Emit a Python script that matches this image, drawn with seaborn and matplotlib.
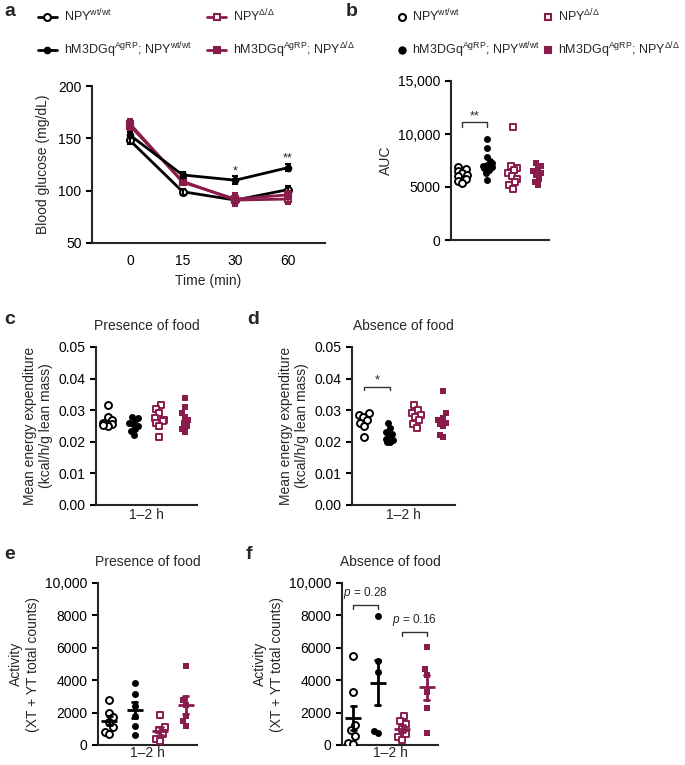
import warnings
import numpy as np
import pandas as pd
import seaborn as sns
import matplotlib.pyplot as plt
from matplotlib.lines import Line2D

warnings.filterwarnings('ignore')

# ---- data ----
group_labels = ['NPY$^{\\mathrm{wt/wt}}$',
                'hM3DGq$^{\\mathrm{AgRP}}$; NPY$^{\\mathrm{wt/wt}}$',
                'NPY$^{\\Delta/\\Delta}$',
                'hM3DGq$^{\\mathrm{AgRP}}$; NPY$^{\\Delta/\\Delta}$']
groups = ['npy_wt', 'hm3_wt', 'npy_del', 'hm3_del']

# a: glucose tolerance (mean, sem)
times = ['0', '15', '30', '60']
glucose_npy_wt = [148, 99, 91, 101]
glucose_npy_wt_sem = [3, 3, 4, 3]
glucose_hm3_wt = [153, 115, 110, 122]
glucose_hm3_wt_sem = [3, 3, 4, 3]
glucose_npy_del = [162, 109, 91, 92]
glucose_npy_del_sem = [5, 4, 6, 5]
glucose_hm3_del = [164, 108, 92, 96]
glucose_hm3_del_sem = [4, 3, 6, 4]

# b: AUC
auc_npy_wt = [6900, 6700, 6500, 6300, 6100, 6000, 5800, 5600, 5400]
auc_hm3_wt = [9500, 8700, 7800, 7500, 7300, 7100, 7000, 6900, 6800, 6600, 6300, 5700]
auc_npy_del = [10650, 7000, 6800, 6600, 6300, 6000, 5800, 5500, 5200, 4800]
auc_hm3_del = [7300, 7000, 6700, 6500, 6300, 6100, 5800, 5500, 5200]

# c: energy expenditure, presence of food
ee_fed_npy_wt = [0.0315, 0.028, 0.027, 0.026, 0.0255, 0.025, 0.0252]
ee_fed_hm3_wt = [0.028, 0.0275, 0.027, 0.026, 0.0255, 0.025, 0.024, 0.0235, 0.022]
ee_fed_npy_del = [0.0315, 0.0305, 0.029, 0.0275, 0.027, 0.0265, 0.026, 0.025, 0.0215]
ee_fed_hm3_del = [0.034, 0.031, 0.029, 0.028, 0.027, 0.026, 0.025, 0.024, 0.023]

# d: energy expenditure, absence of food
ee_fast_npy_wt = [0.029, 0.0285, 0.028, 0.027, 0.026, 0.025, 0.0215]
ee_fast_hm3_wt = [0.026, 0.0245, 0.023, 0.0225, 0.022, 0.021, 0.0205, 0.020, 0.020]
ee_fast_npy_del = [0.0315, 0.030, 0.029, 0.0285, 0.028, 0.027, 0.0255, 0.0245]
ee_fast_hm3_del = [0.036, 0.029, 0.0275, 0.027, 0.026, 0.0255, 0.025, 0.022, 0.0215]

# e: activity, presence of food
act_fed_npy_wt = [2800, 2000, 1700, 1400, 1100, 800, 700]
act_fed_hm3_wt = [3850, 3150, 2400, 1800, 1200, 600]
act_fed_npy_del = [1850, 1100, 900, 700, 400, 250]
act_fed_hm3_del = [4900, 2800, 2500, 1800, 1500, 1200]

# f: activity, absence of food
act_fast_npy_wt = [5500, 3250, 1250, 900, 550, 150, 50]
act_fast_hm3_wt = [7950, 5200, 4500, 850, 750]
act_fast_npy_del = [1800, 1500, 1300, 1000, 700, 500, 300]
act_fast_hm3_del = [6050, 4700, 4350, 3300, 2300, 750]

auc_ticks = [0, 5000, 10000, 15000]
auc_ticklabels = ['0', '5000', '10,000', '15,000']
ee_ticks = [0.0, 0.01, 0.02, 0.03, 0.04, 0.05]
ee_ticklabels = ['0.00', '0.01', '0.02', '0.03', '0.04', '0.05']
act_ticks = [0, 2000, 4000, 6000, 8000, 10000]
act_ticklabels = ['0', '2000', '4000', '6000', '8000', '10,000']

# ---- style ----
sns.set_style('ticks')
plt.rcParams['font.family'] = ['Liberation Sans', 'DejaVu Sans']
plt.rcParams['mathtext.fontset'] = 'custom'
plt.rcParams['mathtext.rm'] = 'Liberation Sans'
plt.rcParams['mathtext.it'] = 'Liberation Sans:italic'
plt.rcParams['mathtext.default'] = 'regular'
plt.rcParams['font.size'] = 10
plt.rcParams['axes.linewidth'] = 1.5

PURPLE = '#8a1c4c'
W, H = 685, 765
styles = {
    'npy_wt': dict(marker='o', face='white', edge='black', lw=1.4),
    'hm3_wt': dict(marker='o', face='black', edge='black', lw=0),
    'npy_del': dict(marker='s', face='white', edge=PURPLE, lw=1.4),
    'hm3_del': dict(marker='s', face=PURPLE, edge=PURPLE, lw=0),
}
line_color = {'npy_wt': 'black', 'hm3_wt': 'black', 'npy_del': PURPLE, 'hm3_del': PURPLE}
swarms = []  # (collection, centre, squeeze) - narrowed after the first draw


def box(l, t, r, b):
    return [l / W, 1 - b / H, (r - l) / W, (b - t) / H]


def style_axis(ax):
    sns.despine(ax=ax)
    ax.tick_params(direction='out', length=4, width=1.5, labelsize=10, colors='black')


def scatter_panel(ax, values, size=5, means=False, squeeze=0.45):
    df = pd.DataFrame({'group': np.repeat(groups, [len(v) for v in values]),
                       'value': np.concatenate(values)})
    for i, g in enumerate(groups):
        st = styles[g]
        sub = df[df['group'] == g]
        n = len(ax.collections)
        sns.swarmplot(data=sub, x='group', y='value', order=groups, ax=ax,
                      marker=st['marker'], color=st['face'], edgecolor=st['edge'],
                      linewidth=st['lw'], size=size, zorder=3)
        for coll in ax.collections[n:]:
            if len(coll.get_offsets()) > 1:
                swarms.append((coll, i, squeeze))
        if means:
            sns.pointplot(data=sub, x='group', y='value', order=groups, ax=ax,
                          errorbar='se', color=line_color[g], marker='_',
                          markersize=12, markeredgewidth=2, linestyle='none',
                          capsize=0.2, err_kws={'linewidth': 2}, zorder=4)
    ax.set_xlim(-0.45, 3.45)
    ax.set_xticks([])
    ax.set_xlabel('1–2 h', fontsize=10, labelpad=2)
    style_axis(ax)


def bracket(ax, x1, x2, y, h, text, fs=9, pad=0):
    ax.plot([x1, x1, x2, x2], [y - h, y, y, y - h], color='#333333', lw=1, clip_on=False)
    ax.text((x1 + x2) / 2, y + pad, text, ha='center', va='bottom', fontsize=fs)


fig = plt.figure(figsize=(W / 100, H / 100), dpi=100)

# ---- a ----
ax = fig.add_axes(box(92, 86, 325, 243))
series_a = [(glucose_npy_wt, glucose_npy_wt_sem, 'npy_wt'),
            (glucose_npy_del, glucose_npy_del_sem, 'npy_del'),
            (glucose_hm3_del, glucose_hm3_del_sem, 'hm3_del'),
            (glucose_hm3_wt, glucose_hm3_wt_sem, 'hm3_wt')]
for vals, sems, g in series_a:
    st = styles[g]
    df = pd.DataFrame({'time': times, 'glucose': vals})
    sns.lineplot(data=df, x='time', y='glucose', ax=ax, color=line_color[g], lw=2,
                 marker=st['marker'], markerfacecolor=st['face'], markeredgecolor=st['edge'],
                 markersize=5 if st['lw'] else 4, markeredgewidth=1.5, sort=False)
    ax.errorbar(times, vals, yerr=sems, fmt='none', ecolor=line_color[g],
                elinewidth=1.5, capsize=2.5, capthick=1.5)
ax.text(2, 113, '*', ha='center', va='bottom', fontsize=9)
ax.text(3, 125, '**', ha='center', va='bottom', fontsize=9)
ax.set_ylim(50, 200)
ax.set_yticks([50, 100, 150, 200])
ax.set_xlim(-0.72, 3.7)
ax.set_xlabel('Time (min)', fontsize=10)
ax.set_ylabel('Blood glucose (mg/dL)', fontsize=10, labelpad=6)
style_axis(ax)
ax.tick_params(axis='x', length=0, pad=8)

# ---- b ----
ax = fig.add_axes(box(451, 81, 549, 240))
scatter_panel(ax, [auc_npy_wt, auc_hm3_wt, auc_npy_del, auc_hm3_del])
ax.set_xlabel('')
ax.set_ylim(0, 15000)
ax.set_yticks(auc_ticks, auc_ticklabels)
ax.set_ylabel('AUC', fontsize=10)
bracket(ax, 0, 1, 11100, 400, '**')

# ---- c ----
ax = fig.add_axes(box(96, 347, 197, 505))
scatter_panel(ax, [ee_fed_npy_wt, ee_fed_hm3_wt, ee_fed_npy_del, ee_fed_hm3_del])
ax.set_ylim(0, 0.05)
ax.set_yticks(ee_ticks, ee_ticklabels)
ax.set_ylabel('Mean energy expenditure\n(kcal/h/g lean mass)', fontsize=10)
ax.set_title('Presence of food', fontsize=10, pad=12)

# ---- d ----
ax = fig.add_axes(box(352, 347, 455, 505))
scatter_panel(ax, [ee_fast_npy_wt, ee_fast_hm3_wt, ee_fast_npy_del, ee_fast_hm3_del])
ax.set_ylim(0, 0.05)
ax.set_yticks(ee_ticks, ee_ticklabels)
ax.set_ylabel('Mean energy expenditure\n(kcal/h/g lean mass)', fontsize=10)
ax.set_title('Absence of food', fontsize=10, pad=12)
bracket(ax, 0, 1, 0.0375, 0.001, '*')

# ---- e ----
ax = fig.add_axes(box(98, 583, 197, 745))
scatter_panel(ax, [act_fed_npy_wt, act_fed_hm3_wt, act_fed_npy_del, act_fed_hm3_del],
              means=True, squeeze=0.5)
ax.set_ylim(0, 10000)
ax.set_yticks(act_ticks, act_ticklabels)
ax.set_ylabel('Activity\n(XT + YT total counts)', fontsize=10)
ax.set_title('Presence of food', fontsize=10, pad=12)
ax.set_xlabel('1–2 h', fontsize=10, labelpad=1)

# ---- f ----
ax = fig.add_axes(box(342, 583, 438, 745))
scatter_panel(ax, [act_fast_npy_wt, act_fast_hm3_wt, act_fast_npy_del, act_fast_hm3_del],
              means=True, squeeze=0.5)
ax.set_ylim(0, 10000)
ax.set_yticks(act_ticks, act_ticklabels)
ax.set_ylabel('Activity\n(XT + YT total counts)', fontsize=10)
ax.set_title('Absence of food', fontsize=10, pad=12)
ax.set_xlabel('1–2 h', fontsize=10, labelpad=1)
bracket(ax, 0, 1, 8650, 250, '$\\mathit{p}$ = 0.28', fs=8.5, pad=250)
bracket(ax, 2, 3, 6950, 250, '$\\mathit{p}$ = 0.16', fs=8.5, pad=250)

# ---- legends ----
handles_a = []
for g in groups:
    st = styles[g]
    handles_a.append(Line2D([0], [0], color=line_color[g], lw=2, marker=st['marker'],
                            markerfacecolor=st['face'], markeredgecolor=st['edge'],
                            markersize=5 if st['lw'] else 4, markeredgewidth=1.5))
fig.legend(handles_a, group_labels, ncol=2, loc='upper left',
           bbox_to_anchor=(33 / W, 1 - 3 / H), frameon=False, fontsize=9,
           handlelength=1.5, handletextpad=0.6, columnspacing=1.2, labelspacing=1.3,
           borderaxespad=0)

handles_b = []
for g in groups:
    st = styles[g]
    handles_b.append(Line2D([0], [0], linestyle='none', marker=st['marker'],
                            markerfacecolor=st['face'], markeredgecolor=st['edge'],
                            markersize=5 if st['lw'] else 4.5, markeredgewidth=1.5))
fig.legend(handles_b, group_labels, ncol=2, loc='upper left',
           bbox_to_anchor=(393 / W, 1 - 3 / H), frameon=False, fontsize=9,
           handlelength=0.6, handletextpad=0.5, columnspacing=0.35, labelspacing=1.3,
           borderaxespad=0)

# ---- panel letters ----
for letter, x, y in [('a', 4, 3), ('b', 346, 3), ('c', 4, 311), ('d', 247, 311),
                     ('e', 4, 546), ('f', 246, 546)]:
    fig.text(x / W, 1 - y / H, letter, fontsize=14, fontweight='bold', va='top', ha='left')

# seaborn lays the swarms out at draw time; narrow them like the original
fig.canvas.draw()
for coll, centre, squeeze in swarms:
    xy = np.array(coll.get_offsets())
    xy[:, 0] = centre + (xy[:, 0] - centre) * squeeze
    coll.set_offsets(xy)
    if 'draw' in coll.__dict__:
        del coll.draw

fig.savefig('out.png', dpi=100)
